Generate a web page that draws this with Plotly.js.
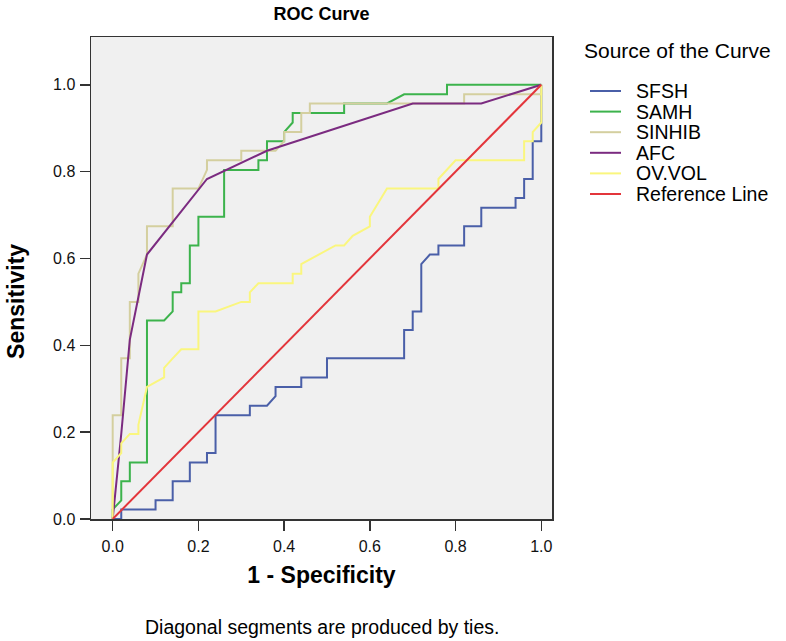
<!DOCTYPE html>
<html>
<head>
<meta charset="utf-8">
<script src="https://cdn.plot.ly/plotly-3.0.1.min.js"></script>
<style>html,body{margin:0;padding:0;background:#fff}#chart{width:786px;height:641px}</style>
</head>
<body>
<div id="chart"></div>
<script>
// 1 - Specificity (x) and Sensitivity (y) for each test variable
var sfshX = [0,0.02,0.02,0.10,0.10,0.14,0.14,0.18,0.18,0.22,0.22,0.24,0.24,0.32,0.32,0.36,0.38,0.38,0.44,0.44,0.50,0.50,0.68,0.68,0.70,0.70,0.72,0.72,0.74,0.76,0.76,0.82,0.82,0.86,0.86,0.94,0.94,0.96,0.96,0.98,0.98,1.0,1.0];
var sfshY = [0,0,0.022,0.022,0.043,0.043,0.087,0.087,0.130,0.130,0.152,0.152,0.239,0.239,0.261,0.261,0.283,0.304,0.304,0.326,0.326,0.370,0.370,0.435,0.435,0.478,0.478,0.587,0.609,0.609,0.630,0.630,0.674,0.674,0.717,0.717,0.739,0.739,0.783,0.783,0.870,0.870,1.0];

var samhX = [0,0,0.02,0.02,0.04,0.04,0.08,0.08,0.12,0.14,0.14,0.16,0.16,0.18,0.18,0.20,0.20,0.26,0.26,0.34,0.34,0.36,0.36,0.40,0.40,0.42,0.42,0.54,0.54,0.64,0.68,0.78,0.78,1.0];
var samhY = [0,0.022,0.043,0.087,0.087,0.130,0.130,0.457,0.457,0.478,0.522,0.522,0.543,0.543,0.630,0.630,0.696,0.696,0.804,0.804,0.826,0.826,0.870,0.870,0.891,0.913,0.935,0.935,0.957,0.957,0.978,0.978,1.0,1.0];

var sinhibX = [0,0,0.02,0.02,0.04,0.04,0.06,0.06,0.08,0.08,0.14,0.14,0.20,0.22,0.22,0.30,0.30,0.38,0.40,0.40,0.44,0.44,0.46,0.46,0.82,0.82,1.0,1.0];
var sinhibY = [0,0.239,0.239,0.370,0.370,0.500,0.500,0.565,0.609,0.674,0.674,0.761,0.761,0.804,0.826,0.826,0.848,0.848,0.870,0.891,0.891,0.935,0.935,0.957,0.957,0.978,0.978,1.0];

var afcX = [0,0.02,0.04,0.08,0.22,0.36,0.70,0.86,1.0];
var afcY = [0,0.196,0.413,0.609,0.783,0.848,0.957,0.957,1.0];

var ovvolX = [0,0,0.02,0.02,0.04,0.06,0.06,0.08,0.12,0.12,0.14,0.16,0.20,0.20,0.24,0.30,0.32,0.32,0.34,0.42,0.42,0.44,0.44,0.48,0.52,0.54,0.56,0.60,0.60,0.64,0.76,0.76,0.80,0.96,0.96,0.98,0.98,1.0,1.0];
var ovvolY = [0,0.130,0.152,0.174,0.196,0.196,0.217,0.304,0.326,0.348,0.370,0.391,0.391,0.478,0.478,0.500,0.500,0.522,0.543,0.543,0.565,0.565,0.587,0.609,0.630,0.630,0.652,0.674,0.696,0.761,0.761,0.783,0.826,0.826,0.870,0.870,0.891,0.913,1.0];

var refX = [0,1];
var refY = [0,1];

var seriesNames = ["SFSH","SAMH","SINHIB","AFC","OV.VOL","Reference Line"];
var seriesColors = ["#4a5fa8","#3cb34c","#d4cf9f","#7b2b80","#faf67e","#e3353b"];
var xTickVals = [0,0.2,0.4,0.6,0.8,1.0];
var yTickVals = [0,0.2,0.4,0.6,0.8,1.0];
var legendTitle = "Source of the Curve";
var noteText = "Diagonal segments are produced by ties.";

var xs = [sfshX,samhX,sinhibX,afcX,ovvolX,refX];
var ys = [sfshY,samhY,sinhibY,afcY,ovvolY,refY];

var FONT = 'Liberation Sans, Arial, Helvetica, sans-serif';

var traces = seriesNames.map(function(n,i){
  return {x: xs[i], y: ys[i], name: n, type: 'scatter', mode: 'lines',
    line: {color: seriesColors[i], width: 2}, showlegend: false};
});

// plot-area geometry in pixels (used only to place the legend block)
var W = 786, H = 641, mL = 91, mR = 234, mT = 37, mB = 122;
var pw = W - mL - mR, ph = H - mT - mB;
function px2x(p){ return (p - mL) / pw; }
function py2y(p){ return (H - mB - p) / ph; }

var shapes = [], annotations = [];
// legend title
annotations.push({text: legendTitle, xref: 'paper', yref: 'paper', x: px2x(582), y: py2y(50),
  xanchor: 'left', yanchor: 'middle', showarrow: false, font: {family: FONT, size: 21, color: '#000'}});
// legend entries
seriesNames.forEach(function(n,i){
  var yy = py2y(91 + i*20.6);
  shapes.push({type: 'line', xref: 'paper', yref: 'paper', x0: px2x(590), x1: px2x(621), y0: yy, y1: yy,
    line: {color: seriesColors[i], width: 2}});
  annotations.push({text: n, xref: 'paper', yref: 'paper', x: px2x(634), y: yy, xanchor: 'left', yanchor: 'middle',
    showarrow: false, font: {family: FONT, size: 19.5, color: '#000'}});
});
// y-axis title, centred on the 0–1 range as in the source
annotations.push({text: '<b>Sensitivity</b>', xref: 'paper', yref: 'y', x: px2x(16), y: 0.5, textangle: -90,
  xanchor: 'center', yanchor: 'middle', showarrow: false, font: {family: FONT, size: 23, color: '#000'}});
// footnote
annotations.push({text: noteText, xref: 'paper', yref: 'paper', x: 0.5, y: py2y(627),
  xanchor: 'center', yanchor: 'middle', showarrow: false, font: {family: FONT, size: 19.5, color: '#000'}});

var tickFont = {family: FONT, size: 16, color: '#111'};
var layout = {
  width: W, height: H,
  margin: {l: mL, r: mR, t: mT, b: mB, pad: 0},
  paper_bgcolor: '#ffffff',
  plot_bgcolor: '#f0f0f0',
  font: {family: FONT, color: '#000'},
  showlegend: false,
  title: {text: '<b>ROC Curve</b>', x: 0.5, xref: 'paper', y: 1 - 14/H, yref: 'container', yanchor: 'middle',
    font: {family: FONT, size: 18, color: '#000'}},
  xaxis: {range: [-0.0506, 1.025], tickvals: xTickVals, ticktext: xTickVals.map(function(v){return v.toFixed(1);}),
    showgrid: false, zeroline: false, showline: true, mirror: true, linecolor: '#333', linewidth: 1.5,
    ticks: 'outside', ticklen: 10, tickwidth: 1.5, tickcolor: '#333', tickfont: tickFont, ticklabelstandoff: 2,
    title: {text: '<b>1 - Specificity</b>', standoff: 13, font: {family: FONT, size: 23, color: '#000'}},
    fixedrange: true},
  yaxis: {range: [0, 1.11], tickvals: yTickVals, ticktext: yTickVals.map(function(v){return v.toFixed(1);}),
    showgrid: false, zeroline: false, showline: true, mirror: true, linecolor: '#333', linewidth: 1.5,
    ticks: 'outside', ticklen: 10, tickwidth: 1.5, tickcolor: '#333', tickfont: tickFont, ticklabelstandoff: 1,
    fixedrange: true},
  shapes: shapes,
  annotations: annotations
};

Plotly.newPlot('chart', traces, layout, {displayModeBar: false, staticPlot: true});
</script>
</body>
</html>
